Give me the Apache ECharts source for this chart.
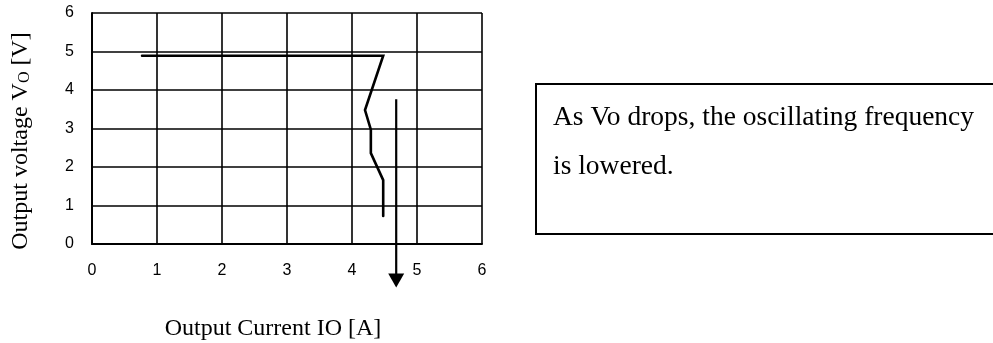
<!DOCTYPE html>
<html>
<head>
<meta charset="utf-8">
<script src="https://cdn.jsdelivr.net/npm/echarts@6/dist/echarts.min.js"></script>
<style>
html,body{margin:0;padding:0;background:#fff;}
#chart{width:993px;height:343px;}
</style>
</head>
<body>
<div id="chart"></div>
<script>
// Data
var curveX = [0.77, 4.48, 4.20, 4.29, 4.29, 4.48, 4.48];
var curveY = [4.89, 4.89, 3.48, 2.97, 2.36, 1.66, 0.73];
var arrowX = [4.68, 4.68];
var arrowY = [3.76, -0.95];
var xTicks = ['0', '1', '2', '3', '4', '5', '6'];
var yTicks = ['0', '1', '2', '3', '4', '5', '6'];
var xTitle = 'Output Current IO [A]';
var yTitleMain = 'Output voltage V';
var yTitleSub = 'O';
var yTitleEnd = ' [V]';
var noteLines = ['As Vo drops, the oscillating frequency', 'is lowered.'];

var curveData = curveX.map(function (x, i) { return [x, curveY[i]]; });
var arrowData = arrowX.map(function (x, i) { return [x, arrowY[i]]; });

var serif = '"Liberation Serif", "Times New Roman", serif';
var sans = '"Liberation Sans", Arial, sans-serif';

var chart = echarts.init(document.getElementById('chart'), null, {renderer: 'canvas'});
chart.setOption({
  animation: false,
  backgroundColor: '#fff',
  grid: {left: 92, right: 511, top: 13, bottom: 99, containLabel: false},
  xAxis: {
    type: 'value', min: 0, max: 6, interval: 1,
    axisLine: {show: true, onZero: false, lineStyle: {color: '#000', width: 2}},
    axisTick: {show: false},
    splitLine: {show: true, lineStyle: {color: '#000', width: 1.6}},
    axisLabel: {color: '#000', fontSize: 16, fontFamily: sans, margin: 19,
      formatter: function (v) { return xTicks[Math.round(v)]; }}
  },
  yAxis: {
    type: 'value', min: 0, max: 6, interval: 1,
    axisLine: {show: true, onZero: false, lineStyle: {color: '#000', width: 2}},
    axisTick: {show: false},
    splitLine: {show: true, lineStyle: {color: '#000', width: 1.6}},
    axisLabel: {color: '#000', fontSize: 16, fontFamily: sans, margin: 18,
      formatter: function (v) { return yTicks[Math.round(v)]; }}
  },
  series: [
    {
      type: 'line', data: curveData, symbol: 'none', clip: false,
      lineStyle: {color: '#000', width: 2.6, cap: 'round', join: 'miter'},
      z: 5
    },
    {
      type: 'line', data: arrowData, clip: false,
      symbol: function (val, params) { return params.dataIndex === arrowData.length - 1 ? 'triangle' : 'none'; },
      symbolSize: [16, 14], symbolRotate: 180, showSymbol: true,
      itemStyle: {color: '#000', borderWidth: 0},
      lineStyle: {color: '#000', width: 2.2},
      z: 6
    }
  ],
  graphic: [
    {
      type: 'text', x: 273, y: 329,
      style: {text: xTitle, font: '24px ' + serif, fill: '#000', align: 'center', verticalAlign: 'middle'}
    },
    {
      type: 'text', x: 20, y: 141, rotation: Math.PI / 2,
      style: {
        text: '{m|' + yTitleMain + '}{s|' + yTitleSub + '}{m|' + yTitleEnd + '}',
        align: 'center', verticalAlign: 'middle',
        rich: {
          m: {fontSize: 24, fontFamily: serif, fill: '#000', verticalAlign: 'bottom', lineHeight: 26},
          s: {fontSize: 16, fontFamily: serif, fill: '#000', verticalAlign: 'bottom', lineHeight: 22}
        }
      }
    },
    {
      type: 'rect', shape: {x: 536, y: 84, width: 470, height: 150},
      style: {fill: 'none', stroke: '#000', lineWidth: 2}
    },
    {
      type: 'text', x: 553, y: 118,
      style: {text: noteLines[0], font: '27.5px ' + serif, fill: '#000', align: 'left', verticalAlign: 'middle'}
    },
    {
      type: 'text', x: 553, y: 167,
      style: {text: noteLines[1], font: '27.5px ' + serif, fill: '#000', align: 'left', verticalAlign: 'middle'}
    }
  ]
});
</script>
</body>
</html>
